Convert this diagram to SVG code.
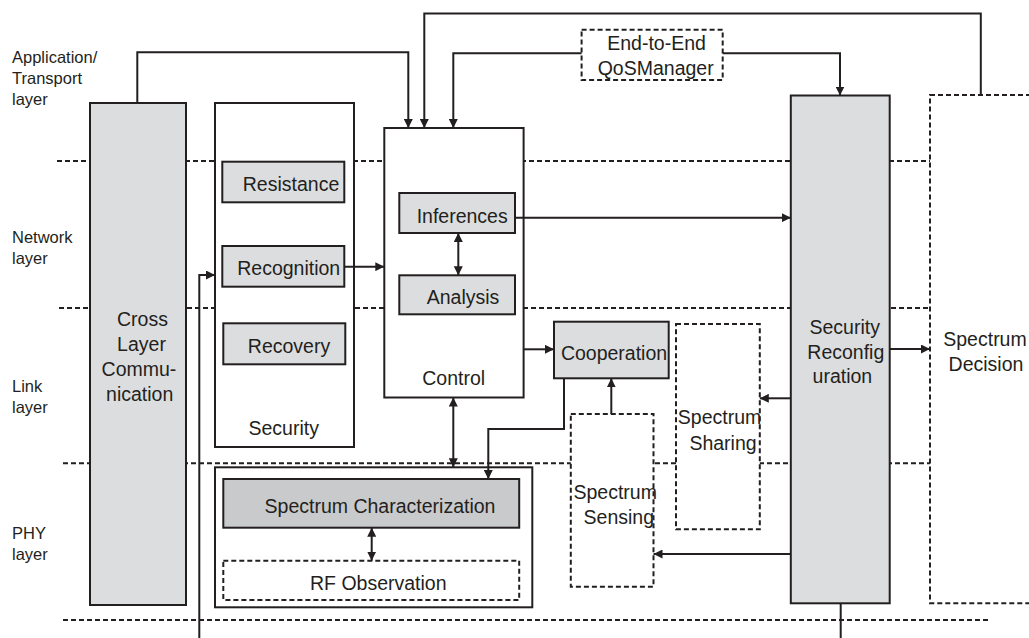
<svg xmlns="http://www.w3.org/2000/svg" width="1029" height="638" viewBox="0 0 1029 638">
  <style>
    .bg { fill: #ffffff; }
    .layer { stroke: #231f20; stroke-width: 2; stroke-dasharray: 5 3; fill: none; }
    .box { fill: #ffffff; stroke: #231f20; stroke-width: 2; }
    .gray { fill: #dcdddf; stroke: #231f20; stroke-width: 2; }
    .dark { fill: #c9cacc; stroke: #231f20; stroke-width: 2; }
    .dash { fill: #ffffff; stroke: #231f20; stroke-width: 2; stroke-dasharray: 5 3; }
    .wire { fill: none; stroke: #231f20; stroke-width: 2; }
    .arrow { marker-end: url(#head); }
    .both { marker-start: url(#head); marker-end: url(#head); }
    text { font-family: "Liberation Sans", Arial, sans-serif; fill: #231f20; }
    .lbl { font-size: 16.5px; }
    .t { font-size: 19.5px; text-anchor: middle; }
  </style>
  <defs>
    <marker id="head" viewBox="0 0 9 9" refX="9" refY="4.5" markerWidth="9" markerHeight="9" markerUnits="userSpaceOnUse" orient="auto-start-reverse">
      <path d="M0,0 L9,4.5 L0,9 z" fill="#231f20"/>
    </marker>
  </defs>

  <rect class="bg" x="0" y="0" width="1029" height="638"/>

  <!-- protocol layer separators -->
  <g id="layer-lines">
    <line class="layer" x1="57" y1="161" x2="930" y2="161"/>
    <line class="layer" x1="59" y1="308" x2="930" y2="308"/>
    <line class="layer" x1="63" y1="463.3" x2="930" y2="463.3"/>
    <line class="layer" x1="63" y1="620" x2="988" y2="620"/>
  </g>

  <!-- layer names -->
  <g id="layer-labels">
    <text class="lbl" x="12" y="63">Application/</text>
    <text class="lbl" x="12" y="84">Transport</text>
    <text class="lbl" x="12" y="105">layer</text>
    <text class="lbl" x="12" y="243">Network</text>
    <text class="lbl" x="12" y="264">layer</text>
    <text class="lbl" x="12" y="392">Link</text>
    <text class="lbl" x="12" y="413">layer</text>
    <text class="lbl" x="12" y="539">PHY</text>
    <text class="lbl" x="12" y="560">layer</text>
  </g>

  <g id="cross-layer">
    <rect class="gray" x="90" y="103" width="96" height="502"/>
    <text class="t" x="142.5" y="326">Cross</text>
    <text class="t" x="141.5" y="351">Layer</text>
    <text class="t" x="139" y="376">Commu-</text>
    <text class="t" x="139.7" y="401">nication</text>
  </g>

  <g id="security">
    <rect class="box" x="215" y="103" width="139" height="344"/>
    <text class="t" x="283.7" y="435">Security</text>
  </g>
  <g id="resistance">
    <rect class="gray" x="222.3" y="161.7" width="122" height="40.6"/>
    <text class="t" x="291" y="191">Resistance</text>
  </g>
  <g id="recognition">
    <rect class="gray" x="222.3" y="246" width="122" height="40.7"/>
    <text class="t" x="288.7" y="275">Recognition</text>
  </g>
  <g id="recovery">
    <rect class="gray" x="223.3" y="323.3" width="122" height="41"/>
    <text class="t" x="289" y="353">Recovery</text>
  </g>

  <g id="control">
    <rect class="box" x="384.3" y="128" width="139.3" height="269.5"/>
    <text class="t" x="453.7" y="385">Control</text>
  </g>
  <g id="inferences">
    <rect class="gray" x="399.3" y="193" width="115.7" height="40"/>
    <text class="t" x="462.2" y="222.5">Inferences</text>
  </g>
  <g id="analysis">
    <rect class="gray" x="399.3" y="275.3" width="115.7" height="39"/>
    <text class="t" x="463" y="303.5">Analysis</text>
  </g>

  <g id="qos-manager">
    <rect class="dash" x="581.6" y="29.7" width="141.1" height="50.3"/>
    <text class="t" x="656.6" y="50">End-to-End</text>
    <text class="t" x="655.7" y="75">QoSManager</text>
  </g>

  <g id="cooperation">
    <rect class="gray" x="554" y="321.7" width="114.7" height="56.6"/>
    <text class="t" x="614" y="359.5">Cooperation</text>
  </g>

  <g id="spectrum-sharing">
    <rect class="dash" x="676" y="324" width="83.8" height="205.3"/>
    <text class="t" x="719.6" y="424">Spectrum</text>
    <text class="t" x="723" y="449.7">Sharing</text>
  </g>

  <g id="spectrum-sensing">
    <rect class="dash" x="570.8" y="414" width="82.7" height="172.7"/>
    <text class="t" x="615.2" y="498.7">Spectrum</text>
    <text class="t" x="618.8" y="523.7">Sensing</text>
  </g>

  <g id="phy-block">
    <rect class="box" x="215" y="467.3" width="317.3" height="140"/>
  </g>
  <g id="spectrum-characterization">
    <rect class="dark" x="223.3" y="479" width="295.9" height="48.7"/>
    <text class="t" x="380" y="513">Spectrum Characterization</text>
  </g>
  <g id="rf-observation">
    <rect class="dash" x="223.3" y="560.7" width="295.9" height="39.3"/>
    <text class="t" x="378.3" y="590">RF Observation</text>
  </g>

  <g id="security-reconfiguration">
    <rect class="gray" x="790.8" y="95.5" width="98.9" height="507.8"/>
    <text class="t" x="844.7" y="333.7">Security</text>
    <text class="t" x="845.8" y="358.7">Reconfig</text>
    <text class="t" x="842.4" y="383">uration</text>
  </g>

  <g id="spectrum-decision">
    <rect class="dash" x="930" y="95" width="120" height="508.3"/>
    <text class="t" x="985" y="346">Spectrum</text>
    <text class="t" x="986" y="371">Decision</text>
  </g>

  <!-- connectors -->
  <g id="connectors">
    <path class="wire arrow" d="M137.3,103 V52.3 H408.3 V128"/>
    <path class="wire arrow" d="M980.8,95 V13.5 H424.3 V128"/>
    <path class="wire arrow" d="M581.6,53.3 H453.3 V128"/>
    <path class="wire arrow" d="M722.7,53.3 H840 V95.5"/>
    <path class="wire arrow" d="M344.3,266.7 H384.3"/>
    <path class="wire arrow" d="M199.3,638 V275 H215"/>
    <path class="wire arrow" d="M515,217.7 H790.8"/>
    <path class="wire both" d="M458.3,233 V275.3"/>
    <path class="wire arrow" d="M523.6,349.3 H554"/>
    <path class="wire arrow" d="M564,378.3 V429 H488.3 V479"/>
    <path class="wire both" d="M453.3,397.5 V467.3"/>
    <path class="wire both" d="M371.7,527.7 V560.7"/>
    <path class="wire arrow" d="M611.3,414 V378.3"/>
    <path class="wire arrow" d="M790.8,398.3 H759.8"/>
    <path class="wire arrow" d="M790.8,554 H653.5"/>
    <path class="wire arrow" d="M889.7,349 H930"/>
    <path class="wire" d="M840.7,603.3 V638"/>
  </g>
</svg>
